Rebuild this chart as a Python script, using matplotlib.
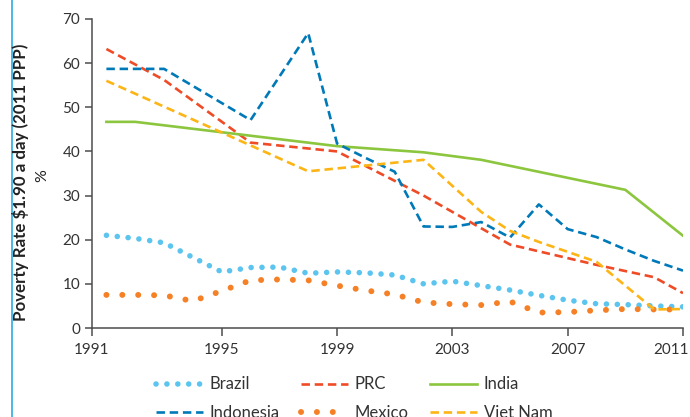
import matplotlib.pyplot as plt
import matplotlib.transforms as mtransforms
from matplotlib.lines import Line2D

# values (poverty rate, % at $1.90 a day)
brazil_years = [1991, 1992, 1993, 1994, 1995, 1996, 1997, 1998, 1999, 2000, 2001,
                2002, 2003, 2004, 2005, 2006, 2007, 2008, 2009, 2010, 2011]
brazil = [21.0, 20.3, 19.3, 16.0, 12.7, 13.7, 13.8, 12.4, 12.7, 12.5, 12.0,
          10.0, 10.6, 9.6, 8.6, 7.4, 6.3, 5.5, 5.3, 5.0, 4.8]

mexico_years = [1991, 1992, 1993, 1994, 1995, 1996, 1997, 1998, 1999, 2000, 2001,
                2002, 2003, 2004, 2005, 2006, 2007, 2008, 2009, 2010, 2011]
mexico = [7.5, 7.5, 7.4, 6.1, 8.4, 10.8, 11.0, 10.8, 9.6, 8.5, 7.6,
          5.8, 5.4, 5.2, 6.0, 3.5, 3.6, 4.0, 4.3, 4.2, 4.2]

prc_years = [1991, 1993, 1996, 1999, 2002, 2005, 2008, 2010, 2011]
prc = [63.2, 56.2, 42.0, 40.0, 30.0, 18.9, 14.3, 11.5, 7.9]

india_years = [1991, 1992, 1999, 2002, 2004, 2009, 2011]
india = [46.7, 46.7, 41.2, 39.8, 38.1, 31.3, 20.9]

indonesia_years = [1991, 1993, 1996, 1998, 1999, 2000, 2001, 2002, 2003, 2004,
                   2005, 2006, 2007, 2008, 2009, 2010, 2011]
indonesia = [58.7, 58.7, 47.1, 66.8, 41.8, 38.5, 35.4, 23.0, 22.9, 24.0,
             20.5, 28.0, 22.4, 20.6, 17.8, 15.2, 13.0]

vietnam_years = [1991, 1998, 2002, 2004, 2005, 2006, 2008, 2010, 2011]
vietnam = [56.0, 35.5, 38.1, 26.3, 22.0, 19.5, 15.0, 4.2, 4.3]

tick_years = [1990.5, 1995, 1999, 2003, 2007, 2011]
tick_labels = ['1991', '1995', '1999', '2003', '2007', '2011']

plt.rcParams['font.family'] = ['Lato', 'DejaVu Sans']

fig = plt.figure(figsize=(6.9, 4.17), dpi=100)
ax = fig.add_axes([92 / 690, 89 / 417, 591 / 690, 309 / 417])

dash = (0, (3.2, 1.8))
ax.plot(brazil_years, brazil, color='#5bc4ef', lw=4.0, linestyle=(0, (0.01, 1.95)),
        dash_capstyle='round', label='Brazil')
ax.plot(prc_years, prc, color='#ef4b26', lw=1.9, linestyle=dash, label='PRC')
ax.plot(india_years, india, color='#8cc63f', lw=1.9, label='India')
ax.plot(indonesia_years, indonesia, color='#0079b8', lw=1.9, linestyle=dash, label='Indonesia')
ax.plot(mexico_years, mexico, color='#f58025', lw=4.3, linestyle=(0, (0.01, 2.65)),
        dash_capstyle='round', label='Mexico')
ax.plot(vietnam_years, vietnam, color='#fdb515', lw=1.9, linestyle=dash, label='Viet Nam')

ax.set_xlim(1990.5, 2011)
ax.set_ylim(0, 70)
ax.set_yticks(range(0, 71, 10))
ax.set_xticks(tick_years)
ax.set_xticklabels(tick_labels)

for side in ['top', 'right']:
    ax.spines[side].set_visible(False)
for side in ['left', 'bottom']:
    ax.spines[side].set_color('#4d4d4d')
    ax.spines[side].set_linewidth(1.1)
ax.tick_params(axis='both', colors='#4d4d4d', labelcolor='#333333', labelsize=11,
               length=5, width=1.1, direction='out')
ax.tick_params(axis='x', length=6, pad=5)

# last year label sits a bit left of its tick so it stays inside the picture
last = ax.get_xticklabels()[-1]
last.set_transform(last.get_transform() + mtransforms.ScaledTranslation(-12 / 100, 0, fig.dpi_scale_trans))

fig.text(21 / 690, 0.563, 'Poverty Rate $1.90 a day (2011 PPP)', rotation=90,
         ha='center', va='center', fontsize=12.2, fontweight='bold', color='#222222')
fig.text(42 / 690, 0.58, '%', rotation=90, ha='center', va='center',
         fontsize=11.5, color='#222222')

# legend, filled column by column
h, l = ax.get_legend_handles_labels()
order = [0, 3, 1, 4, 2, 5]
fig.legend([h[i] for i in order], [l[i] for i in order], ncol=3,
           loc='upper left', bbox_to_anchor=(148 / 690, 1 - 368 / 417),
           frameon=False, fontsize=12, handlelength=2.8, handletextpad=0.4,
           columnspacing=1.3, labelspacing=0.75, borderpad=0, labelcolor='#333333')

# thin blue frame line on the left edge
fig.add_artist(Line2D([12 / 690, 12 / 690], [0, 1], color='#29abe2', lw=1.2,
                      transform=fig.transFigure))

fig.savefig('out.png', dpi=100)
